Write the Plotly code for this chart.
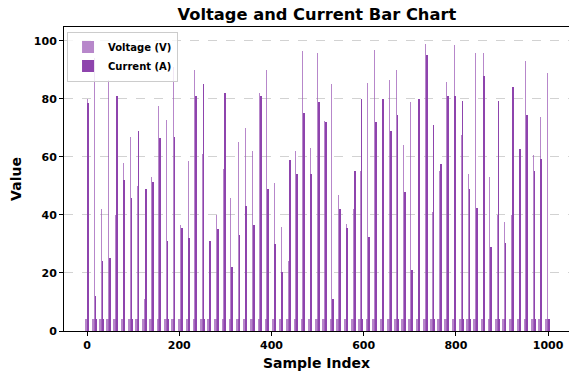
import plotly.graph_objects as go

# cluster positions (sample index) of the visible bars
sample_index = [round(k * 999 / 64) for k in range(65)]

voltage = [80, 94, 42, 86.5, 40, 58, 67, 50, 11, 53,
           77.6, 72.8, 91, 36.5, 58.7, 90, 61, 19, 40, 56,
           46, 65, 70, 62, 82, 90, 51, 36, 24, 62,
           96.7, 63, 96, 72.5, 85, 47, 37, 42, 55, 85.6,
           97, 37, 86.5, 90, 64, 79, 12.5, 99, 41, 55,
           86, 98.6, 67.6, 54, 95.7, 95.7, 53, 40, 37.7, 40,
           14, 93, 60.7, 73.7, 89]
current = [78.6, 12, 24, 25, 81, 52, 46, 69, 49, 51.5,
           66.5, 31, 67, 35.5, 32, 81, 85, 31, 35, 82,
           22, 33, 43, 36.5, 81, 49, 30, 20.5, 59, 54,
           75, 54, 79, 72, 11, 42, 35.5, 55, 80, 32.5,
           72, 80, 69, 74.5, 48, 21, 80, 95, 71, 57.6,
           81, 81, 79.4, 49, 42.4, 88, 29, 79.4, 30.5, 84,
           62.7, 74.5, 55, 59.3, 4]
base_level = [4.2] * 65

v_color = "rgba(155,89,182,0.72)"
c_color = "#8e44ad"

fig = go.Figure()
fig.add_trace(go.Bar(x=[i - 1 for i in sample_index], y=base_level, width=8,
                     marker=dict(color=v_color, line=dict(width=0)),
                     showlegend=False, legendgroup="v", hoverinfo="skip"))
fig.add_trace(go.Bar(x=[i + 3 for i in sample_index], y=base_level, width=3,
                     marker=dict(color=c_color, line=dict(width=0)),
                     showlegend=False, legendgroup="c", hoverinfo="skip"))
fig.add_trace(go.Bar(x=sample_index, y=voltage, width=2.2, name="<b>Voltage (V)</b>",
                     marker=dict(color=v_color, line=dict(width=0)), legendgroup="v"))
fig.add_trace(go.Bar(x=[i + 2.5 for i in sample_index], y=current, width=1.8, name="<b>Current (A)</b>",
                     marker=dict(color=c_color, line=dict(width=0)), legendgroup="c"))

font = "DejaVu Sans"
fig.update_layout(
    width=569, height=378,
    margin=dict(l=64, r=0, t=27, b=47),
    barmode="overlay", bargap=0,
    plot_bgcolor="white", paper_bgcolor="white",
    font=dict(family=font, color="black"),
    title=dict(text="<b>Voltage and Current Bar Chart</b>", x=0.557, xanchor="center",
               y=0.962, yanchor="middle", font=dict(size=16.3, family=font)),
    legend=dict(x=0.006, y=0.985, xanchor="left", yanchor="top",
                bgcolor="rgba(255,255,255,0.8)", bordercolor="#cccccc", borderwidth=1,
                font=dict(size=10, family=font), traceorder="normal",
                itemwidth=30, tracegroupgap=0),
    xaxis=dict(range=[-50, 1045.4], tickvals=[0, 200, 400, 600, 800, 1000],
               ticktext=["<b>%d</b>" % v for v in [0, 200, 400, 600, 800, 1000]],
               ticks="outside", ticklen=4, tickcolor="black",
               showline=True, linecolor="black", linewidth=1, mirror=True,
               showgrid=False, zeroline=False, tickfont=dict(size=11),
               title=dict(text="<b>Sample Index</b>", font=dict(size=14), standoff=6)),
    yaxis=dict(range=[0, 104.8], tickvals=[0, 20, 40, 60, 80, 100],
               ticktext=["<b>%d</b>" % v for v in [0, 20, 40, 60, 80, 100]],
               ticks="outside", ticklen=4, tickcolor="black",
               showline=True, linecolor="black", linewidth=1, mirror=True,
               showgrid=True, gridcolor="rgba(180,180,180,0.6)", griddash="dash", gridwidth=1,
               zeroline=False, tickfont=dict(size=11),
               title=dict(text="<b>Value</b>", font=dict(size=14), standoff=8)),
)
fig.write_html("out.html")
